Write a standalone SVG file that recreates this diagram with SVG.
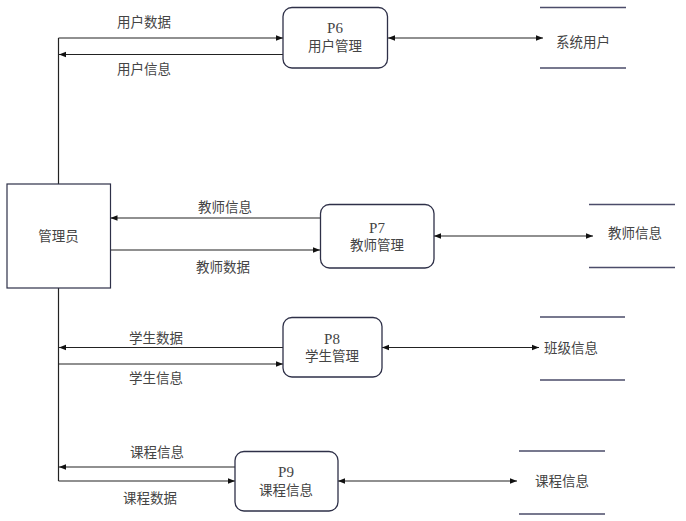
<svg xmlns="http://www.w3.org/2000/svg" width="686" height="521" viewBox="0 0 686 521">
<style>
text{font-family:"Liberation Serif","Noto Sans CJK SC",serif;font-size:13.5px;fill:#444;text-anchor:middle;dominant-baseline:central}
text.p{font-size:15px}
.proc{fill:#fff;stroke:#2e3048;stroke-width:1.3}
.ent{fill:#fff;stroke:#2e3048;stroke-width:1.2}
.store{stroke:#4b4c6a;stroke-width:1.4;fill:none}
.flow{stroke:#222;stroke-width:1.2;fill:none}
</style>
<defs>
<marker id="ah" viewBox="0 0 10 10" refX="10" refY="5" markerWidth="7" markerHeight="7" markerUnits="userSpaceOnUse" orient="auto-start-reverse">
<path d="M0,1 L10,5 L0,9 Z" fill="#111"/>
</marker>
</defs>
<rect width="686" height="521" fill="#fff"/>
<g id="connectors">
<path class="flow" d="M58.5,38 V184"/>
<path class="flow" d="M58.5,288 V481"/>
<path class="flow" d="M58.5,38 H283" marker-end="url(#ah)"/>
<path class="flow" d="M283,54.5 H59" marker-end="url(#ah)"/>
<path class="flow" d="M388,38 H543" marker-start="url(#ah)" marker-end="url(#ah)"/>
<path class="flow" d="M320,218 H110.5" marker-end="url(#ah)"/>
<path class="flow" d="M110.5,250 H320" marker-end="url(#ah)"/>
<path class="flow" d="M434,236 H593" marker-start="url(#ah)" marker-end="url(#ah)"/>
<path class="flow" d="M283,347.5 H59" marker-end="url(#ah)"/>
<path class="flow" d="M58.5,364 H283" marker-end="url(#ah)"/>
<path class="flow" d="M382,347.5 H539" marker-start="url(#ah)" marker-end="url(#ah)"/>
<path class="flow" d="M235,467 H59" marker-end="url(#ah)"/>
<path class="flow" d="M58.5,481 H235" marker-end="url(#ah)"/>
<path class="flow" d="M338,481 H517" marker-start="url(#ah)" marker-end="url(#ah)"/>
</g>
<g id="labels">
<text x="144" y="22">用户数据</text>
<text x="144" y="69">用户信息</text>
<text x="225" y="207">教师信息</text>
<text x="223" y="267">教师数据</text>
<text x="156" y="338">学生数据</text>
<text x="156" y="378">学生信息</text>
<text x="157" y="452">课程信息</text>
<text x="150" y="498">课程数据</text>
</g>
<g id="manager">
<rect class="ent" x="7" y="184" width="103.5" height="104"/>
<text x="58.5" y="236">管理员</text>
</g>
<g id="P6">
<rect class="proc" x="283" y="7.5" width="104.5" height="60.5" rx="9"/>
<text class="p" x="335" y="28">P6</text>
<text x="335" y="46">用户管理</text>
</g>
<g id="P7">
<rect class="proc" x="320.5" y="204.5" width="113.5" height="63.5" rx="9"/>
<text class="p" x="377" y="228">P7</text>
<text x="377" y="245">教师管理</text>
</g>
<g id="P8">
<rect class="proc" x="283" y="317.5" width="99" height="59.5" rx="9"/>
<text class="p" x="332" y="339">P8</text>
<text x="332" y="356">学生管理</text>
</g>
<g id="P9">
<rect class="proc" x="235" y="451.5" width="103" height="59.5" rx="9"/>
<text class="p" x="286" y="472">P9</text>
<text x="286" y="490">课程信息</text>
</g>
<g id="store-users">
<path class="store" d="M540,7.5 H626 M540,68 H626"/>
<text x="583" y="42">系统用户</text>
</g>
<g id="store-teachers">
<path class="store" d="M589,204.5 H675 M589,267.5 H675"/>
<text x="635" y="233">教师信息</text>
</g>
<g id="store-classes">
<path class="store" d="M540,317 H625 M540,380 H625"/>
<text x="571" y="348">班级信息</text>
</g>
<g id="store-courses">
<path class="store" d="M519,451 H605 M519,514 H605"/>
<text x="562" y="481">课程信息</text>
</g>
</svg>
